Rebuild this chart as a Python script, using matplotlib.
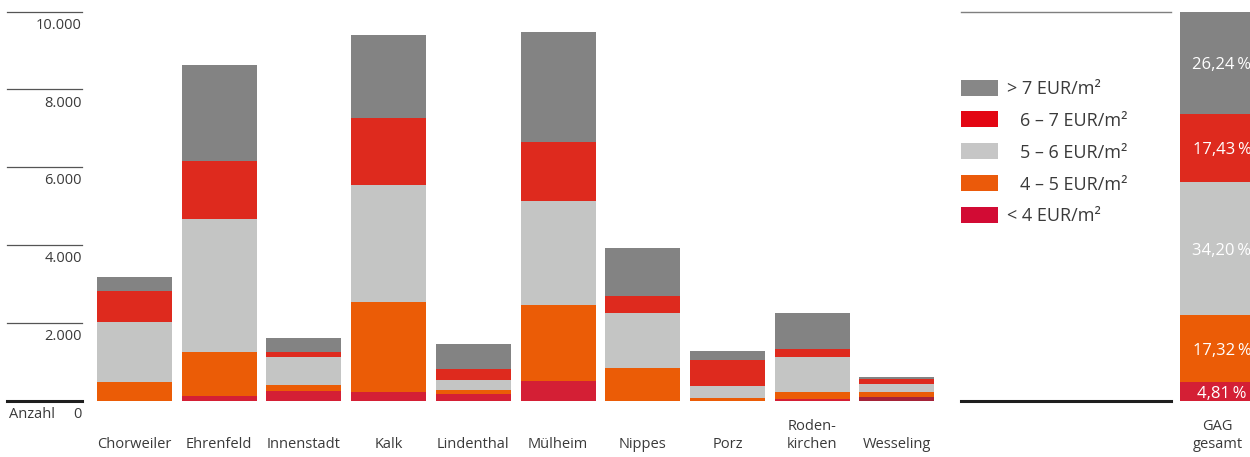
import matplotlib
matplotlib.use("Agg")
import matplotlib.pyplot as plt
from matplotlib.patches import Rectangle
from matplotlib.transforms import blended_transform_factory
import numpy as np

plt.rcParams['font.family'] = ['Open Sans', 'DejaVu Sans']

# Wohnungen je Stadtbezirk nach Miethöhe (Anzahl), von unten nach oben gestapelt
districts = ['Chorweiler', 'Ehrenfeld', 'Innenstadt', 'Kalk', 'Lindenthal',
             'Mülheim', 'Nippes', 'Porz', 'Roden-\nkirchen', 'Wesseling']
below_4 = [0, 130, 250, 230, 180, 510, 0, 0, 40, 100]
from_4_to_5 = [500, 1130, 150, 2310, 100, 1950, 850, 80, 180, 130]
from_5_to_6 = [1520, 3410, 720, 3000, 260, 2670, 1410, 310, 900, 210]
from_6_to_7 = [800, 1490, 130, 1720, 280, 1520, 440, 670, 210, 130]
above_7 = [360, 2460, 360, 2130, 640, 2820, 1230, 230, 920, 50]

# GAG gesamt in Prozent
gag_share = [4.81, 17.32, 34.20, 17.43, 26.24]
gag_label = 'GAG\ngesamt'

y_ticks = [2000, 4000, 6000, 8000, 10000]

labels = ['< 4 EUR/m²', '4 – 5 EUR/m²', '5 – 6 EUR/m²', '6 – 7 EUR/m²', '> 7 EUR/m²']
colors = ['#d41f35', '#eb5c06', '#c4c5c4', '#de2a1e', '#838383']
legend_colors = ['#d20b34', '#eb5a0a', '#c6c6c6', '#e30613', '#878787']
text_color = '#3a3a3a'

W, H = 1250, 457
fig = plt.figure(figsize=(W / 100, H / 100), dpi=100)

px_per_unit = 0.03895
base_px = 401
rect = [0, (H - base_px) / H, 1, base_px / H]
ax = fig.add_axes(rect)
ax.set_xlim(-134.5 / 84.7, (W - 134.5) / 84.7)
ax.set_ylim(0, base_px / px_per_unit)
ax.axis('off')

ax2 = fig.add_axes(rect)
ax2.set_xlim(ax.get_xlim())
ax2.set_ylim(0, base_px / px_per_unit / 100)
ax2.axis('off')

x = np.arange(len(districts))
width = 75 / 84.7
series = [below_4, from_4_to_5, from_5_to_6, from_6_to_7, above_7]
bottom = np.zeros(len(districts))
for vals, c in zip(series, colors):
    bars = ax.bar(x, vals, width, bottom=bottom, color=c, linewidth=0)
    bottom += np.array(vals)
    if c == colors[0]:
        bars[-1].set_color('#a52338')

# Gesamtbalken rechts
gag_x = 12.79
gb = 0
for share, c in zip(gag_share, colors):
    ax2.bar(gag_x, share, width, bottom=gb, color=c, linewidth=0)
    ax2.annotate(f'{share:.2f}'.replace('.', ',') + '\u2009%',
                 xy=(gag_x, gb + share / 2), xytext=(3, -2),
                 textcoords='offset points', ha='center', va='center',
                 color='white', fontsize=12)
    gb += share

# kurze Gitterlinien links mit Beschriftung darunter
x0, x1 = 7 / W, 82 / W
for v in y_ticks:
    ax.axhline(v, xmin=x0, xmax=x1, color='#555555', lw=0.9)
    ax.annotate(f'{v:,}'.replace(',', '.'), xy=(x1, v),
                xycoords=('axes fraction', 'data'), xytext=(0, -9.8),
                textcoords='offset points', ha='right', va='center',
                color=text_color, fontsize=10.5)
ax.axhline(0, xmin=x0, xmax=x1, color='#1e1e1e', lw=2.2, clip_on=False)
ax.annotate('0', xy=(x1, 0), xycoords=('axes fraction', 'data'),
            xytext=(0, -9.5), textcoords='offset points', ha='right',
            va='center', color=text_color, fontsize=10.5)
ax.annotate('Anzahl', xy=(9 / W, 0), xycoords=('axes fraction', 'data'),
            xytext=(0, -9.5), textcoords='offset points', ha='left',
            va='center', color=text_color, fontsize=10.5)

# Linien im rechten Bereich
r0, r1 = 961 / W, 1171 / W
ax.axhline(10000, xmin=r0, xmax=r1, color='#7f7f7f', lw=1.0)
ax.axhline(0, xmin=r0, xmax=r1, color='#1e1e1e', lw=2.2, clip_on=False)

# Kategorienbeschriftung
tr = blended_transform_factory(ax.transData, fig.transFigure)
for xi, name in zip(list(x) + [gag_x], districts + [gag_label]):
    ax.text(xi, 5 / H, name, transform=tr, ha='center', va='bottom',
            multialignment='center', linespacing=1.25,
            color=text_color, fontsize=10.5)

# Legende
row_y = [215, 183, 151, 119, 88]
for lab, c, yy in zip(labels, legend_colors, row_y):
    fig.add_artist(Rectangle((961 / W, 1 - (yy + 8) / H), 37 / W, 16 / H,
                             transform=fig.transFigure, color=c, lw=0))
    tx = 1007 if lab[0] in '<>' else 1020
    fig.text(tx / W, 1 - (yy + 1.5) / H, lab, ha='left', va='center',
             color=text_color, fontsize=13)

fig.savefig('out.png', dpi=100)
